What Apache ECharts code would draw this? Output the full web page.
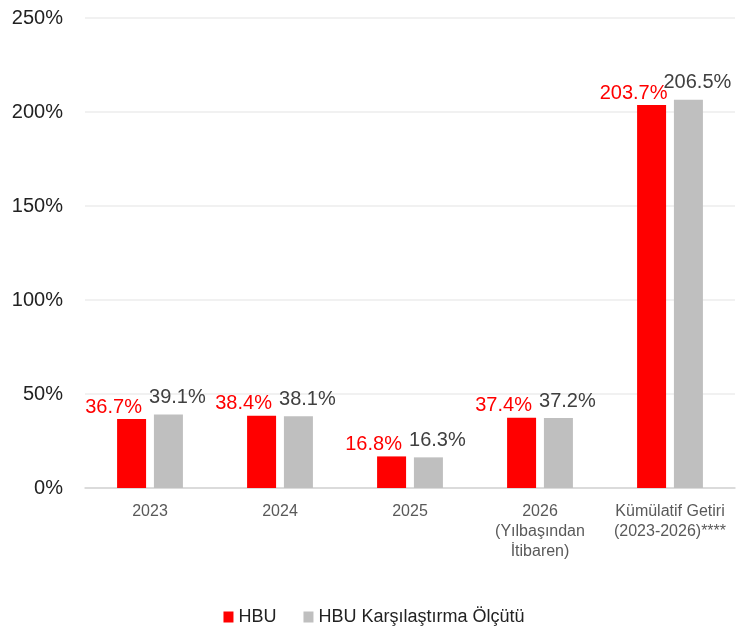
<!DOCTYPE html>
<html>
<head>
<meta charset="utf-8">
<script src="https://cdn.jsdelivr.net/npm/echarts@6/dist/echarts.min.js"></script>
<style>
  html, body { margin: 0; padding: 0; background: #fff; }
  #chart { width: 748px; height: 631px; }
</style>
</head>
<body>
<div id="chart"></div>
<script>
var categories = ['2023', '2024', '2025', '2026\n(Yılbaşından\nİtibaren)', 'Kümülatif Getiri\n(2023-2026)****'];
var hbu = [36.7, 38.4, 16.8, 37.4, 203.7];
var benchmark = [39.1, 38.1, 16.3, 37.2, 206.5];
var seriesNames = ['HBU', 'HBU Karşılaştırma Ölçütü'];

function DrawChart() {
    var chart = echarts.init(document.getElementById('chart'));
    var font = 'Liberation Sans, Arial, sans-serif';
    var option = {
        backgroundColor: '#fff',
        textStyle: { fontFamily: font },
        grid: {
            left: 85,
            right: 13,
            top: 18,
            bottom: 143
        },
        legend: {
            bottom: 0,
            itemWidth: 10,
            itemHeight: 11,
            itemGap: 27,
            icon: 'rect',
            textStyle: { fontSize: 18, color: '#222', fontFamily: font },
            data: seriesNames
        },
        xAxis: {
            type: 'category',
            data: categories,
            axisTick: { show: false },
            axisLine: { lineStyle: { color: '#d4d4d4', width: 1.5 } },
            axisLabel: {
                color: '#595959',
                fontSize: 16,
                lineHeight: 20,
                margin: 14,
                interval: 0
            }
        },
        yAxis: {
            type: 'value',
            min: 0,
            max: 250,
            interval: 50,
            axisLine: { show: false },
            axisTick: { show: false },
            axisLabel: {
                formatter: '{value}%',
                color: '#222',
                fontSize: 20,
                margin: 22
            },
            splitLine: { lineStyle: { color: '#ececec', width: 1.5 } }
        },
        series: [
            {
                name: seriesNames[0],
                type: 'bar',
                data: hbu,
                barWidth: 29,
                barGap: '27%',
                itemStyle: { color: '#ff0000' },
                label: {
                    show: true,
                    position: 'top',
                    distance: 2,
                    offset: [-18, 0],
                    color: '#ff0000',
                    fontSize: 20,
                    formatter: function (p) { return p.value.toFixed(1) + '%'; }
                }
            },
            {
                name: seriesNames[1],
                type: 'bar',
                data: benchmark,
                barWidth: 29,
                itemStyle: { color: '#bfbfbf' },
                label: {
                    show: true,
                    position: 'top',
                    distance: 7,
                    offset: [9, 0],
                    color: '#404040',
                    fontSize: 20,
                    formatter: function (p) { return p.value.toFixed(1) + '%'; }
                }
            }
        ]
    };
    chart.setOption(option);
};

DrawChart();
</script>
</body>
</html>
